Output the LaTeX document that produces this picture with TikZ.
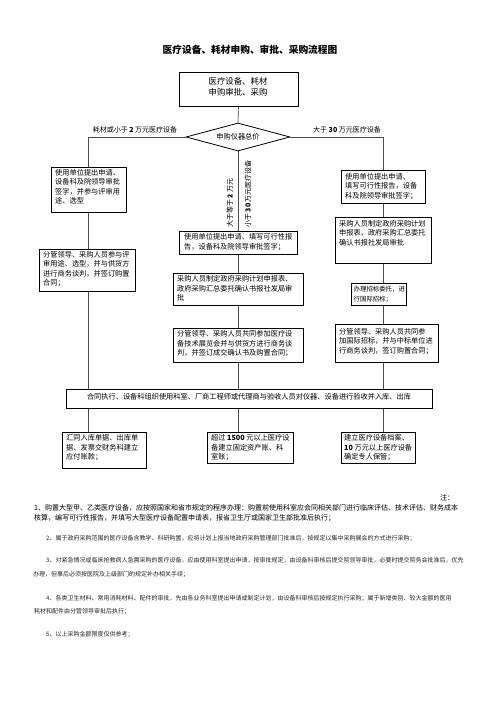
\documentclass[tikz,border=0pt]{standalone}
\usepackage{fontspec}
\setmainfont{Noto Sans CJK SC}
\usetikzlibrary{shapes.geometric}
\begin{document}
\begin{tikzpicture}[x=1pt,y=-1pt,
  bx/.style={draw=black,line width=0.9pt,inner sep=0pt,anchor=north west},
  tx/.style={inner sep=0pt,anchor=north west,align=left,font=\fontsize{7.2}{9.5}\selectfont},
  ln/.style={draw=black!70,line width=0.7pt},
  lbl/.style={inner sep=0pt,font=\fontsize{7}{8}\selectfont},
  note/.style={inner sep=0pt,anchor=west,text=black!85,font=\fontsize{6}{7}\selectfont},
  notebig/.style={note,text=black,font=\fontsize{7}{8}\selectfont}]
\useasboundingbox (0,0) rectangle (503,711);
\fill[white] (0,0) rectangle (503,711);
\coordinate (lx) at (88,0);
\coordinate (mx) at (238,0);
\coordinate (rx) at (383,0);

% title
\node[inner sep=0pt,font=\fontsize{9.7}{11}\selectfont\bfseries] (title) at (250,50) {医疗设备、耗材申购、审批、采购流程图};

% top box and diamond
\node[bx,minimum width=119pt,minimum height=34pt] (top) at (178.5,72) {};
\node[inner sep=0pt,align=center,font=\fontsize{8.4}{11}\selectfont] (topt) at (238,86.5) {医疗设备、耗材\\申购审批、采购};
\node[draw=black,line width=0.8pt,diamond,aspect=3.7,minimum width=104pt,minimum height=28pt,inner sep=0pt,font=\fontsize{7.2}{8}\selectfont] (dia) at (238,137) {申购仪器总价};

% branch labels
\node[lbl] (lblL) at (135,130) {耗材或小于 \textbf{2} 万元医疗设备};
\node[lbl] (lblR) at (347,130) {大于 \textbf{30} 万元医疗设备};
\node[lbl,rotate=90,anchor=west] (lblM1) at (230,228) {大于等于 \textbf{2} 万元};
\node[lbl,rotate=90,anchor=west] (lblM2) at (248,228) {小于 \textbf{30} 万元医疗设备};

% left column
\node[bx,minimum width=75pt,minimum height=45pt] (lb1) at (51,167) {};
\node[tx] (lb1t) at ([shift={(4pt,-2pt)}]lb1.north west) {使用单位提出申请、\\设备科及院领导审批\\签字，并参与评审用\\途、选型};
\node[bx,minimum width=96pt,minimum height=42pt] (lb2) at (39,249) {};
\node[tx] (lb2t) at ([shift={(4pt,-2pt)}]lb2.north west) {分管领导、采购人员参与评\\审用途、选型，并与供货方\\进行商务谈判，并签订购置\\合同；};

% middle column
\node[bx,minimum width=118pt,minimum height=23pt] (mb1) at (179,231) {};
\node[tx] (mb1t) at ([shift={(5pt,-2.5pt)}]mb1.north west) {使用单位提出申请、填写可行性报\\告，设备科及院领导审批签字；};
\node[bx,minimum width=130pt,minimum height=32pt] (mb2) at (173,273) {};
\node[tx] (mb2t) at ([shift={(4pt,-2.5pt)}]mb2.north west) {采购人员制定政府采购计划申报表、\\政府采购汇总委托确认书报社发局审\\批};
\node[bx,minimum width=130pt,minimum height=34pt] (mb3) at (173,328) {};
\node[tx] (mb3t) at ([shift={(4pt,-2.5pt)}]mb3.north west) {分管领导、采购人员共同参加医疗设\\备技术展览会并与供货方进行商务谈\\判，并签订成交确认书及购置合同；};

% right column
\node[bx,minimum width=84pt,minimum height=33pt] (rb1) at (341,170) {};
\node[tx] (rb1t) at ([shift={(4pt,-3pt)}]rb1.north west) {使用单位提出申请、\\填写可行性报告，设备\\科及院领导审批签字；};
\node[bx,minimum width=96pt,minimum height=46pt] (rb2) at (335,217) {};
\node[tx] (rb2t) at ([shift={(4pt,-3pt)}]rb2.north west) {采购人员制定政府采购计划\\申报表、政府采购汇总委托\\确认书报社发局审批};
\node[bx,minimum width=55pt,minimum height=22pt] (rb3) at (351,283) {};
\node[tx,font=\fontsize{6.4}{10.5}\selectfont] (rb3t) at ([shift={(2.5pt,-2.5pt)}]rb3.north west) {办理招标委托，进\\行国际招标；};
\node[bx,minimum width=103pt,minimum height=38pt] (rb4) at (335,324) {};
\node[tx] (rb4t) at ([shift={(4pt,-4pt)}]rb4.north west) {分管领导、采购人员共同参\\加国际招标，并与中标单位进\\行商务谈判，签订购置合同；};

% execution box
\node[bx,minimum width=366pt,minimum height=19pt] (ex) at (66,389) {};
\node[inner sep=0pt,font=\fontsize{7.2}{8}\selectfont] (ext) at (249,397) {合同执行、设备科组织使用科室、厂商工程师或代理商与验收人员对仪器、设备进行验收并入库、出库};

% bottom boxes
\node[bx,minimum width=84pt,minimum height=36pt] (bl) at (62,432) {};
\node[tx] (blt) at ([shift={(4pt,-2.5pt)}]bl.north west) {汇同入库单据、出库单\\据、发票交财务科建立\\应付账款；};
\node[bx,minimum width=86pt,minimum height=31pt] (bm) at (207,432) {};
\node[tx] (bmt) at ([shift={(4pt,-2.5pt)}]bm.north west) {超过 \textbf{1500} 元以上医疗设\\备建立固定资产账、科\\室账；};
\node[bx,minimum width=74pt,minimum height=31pt] (br) at (341,432) {};
\node[tx] (brt) at ([shift={(3pt,-2.5pt)}]br.north west) {建立医疗设备档案、\\\textbf{10} 万元以上医疗设备\\确定专人保管；};

% connectors
\draw[ln] (top.south) -- (dia.north);
\draw[ln] (dia.west) -| (lx |- lb1.north);
\draw[ln] (dia.east) -| (rx |- rb1.north);
\draw[ln] (dia.south) -- (mx |- mb1.north);
\draw[ln] (lx |- lb1.south) -- (lx |- lb2.north);
\draw[ln] (lx |- lb2.south) -- (lx |- ex.north);
\draw[ln] (mx |- mb1.south) -- (mx |- mb2.north);
\draw[ln] (mx |- mb2.south) -- (mx |- mb3.north);
\draw[ln] (mx |- mb3.south) -- (mx |- ex.north);
\draw[ln] (rx |- rb1.south) -- (rx |- rb2.north);
\draw[ln] (rx |- rb2.south) -- (rx |- rb3.north);
\draw[ln] (rx |- rb3.south) -- (rx |- rb4.north);
\draw[ln] (rx |- rb4.south) -- (rx |- ex.north);
\draw[ln] (lx |- ex.south) -- (lx |- bl.north);
\draw[ln] (mx |- ex.south) -- (mx |- bm.north);
\draw[ln] (rx |- ex.south) -- (rx |- br.north);

% notes
\node[inner sep=0pt,font=\fontsize{7}{8}\selectfont] (zhu) at (447,498) {注：};
\node[notebig] (n1a) at (34,508) {1、购置大型甲、乙类医疗设备，应按照国家和省市规定的程序办理：购置前使用科室应会同相关部门进行临床评估、技术评估、财务成本};
\node[notebig] (n1b) at (34,518) {核算，编写可行性报告，并填写大型医疗设备配置申请表，报省卫生厅或国家卫生部批准后执行；};
\node[note] (n2) at (46,538) {2、属于政府采购范围的医疗设备含教学、科研购置，应将计划上报当地政府采购管理部门批准后，按规定以集中采购展会的方式进行采购；};
\node[note] (n3a) at (46,560) {3、对紧急情况或临床抢救病人急需采购的医疗设备，应由使用科室提出申请，按审批规定，由设备科审核后提交院领导审批，必要时提交院务会批准后，优先};
\node[note] (n3b) at (33,574) {办理，但事后必须按医院及上级部门的规定补办相关手续；};
\node[note] (n4a) at (46,598) {4、各类卫生材料、常用消耗材料、配件的审批，先由各业务科室提出申请或制定计划，由设备科审核后按规定执行采购；属于新增类别、较大金额的医用};
\node[note] (n4b) at (34,611) {耗材和配件由分管领导审批后执行；};
\node[note] (n5) at (46,634) {5、以上采购金额限度仅供参考；};
\end{tikzpicture}
\end{document}
